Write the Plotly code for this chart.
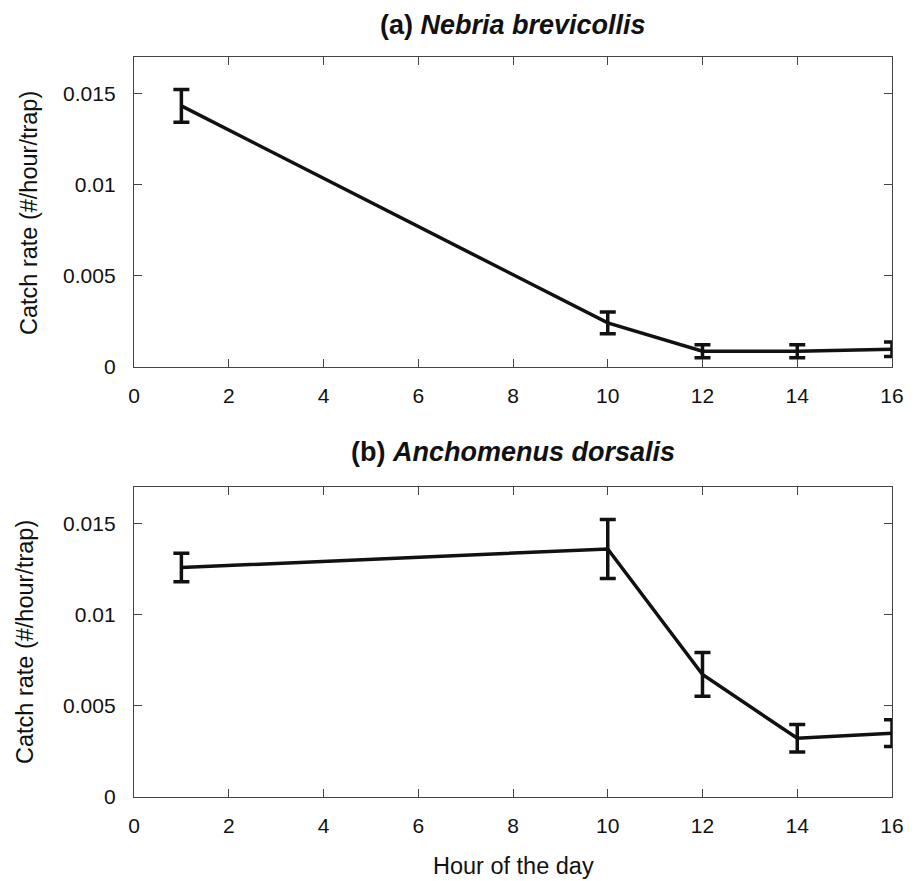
import plotly.graph_objects as go
from plotly.subplots import make_subplots

hours = [1, 10, 12, 14, 16]

nebria_mean = [0.01432, 0.00242, 0.00087, 0.00087, 0.00098]
nebria_err = [0.00090, 0.00060, 0.00036, 0.00036, 0.00040]

anchomenus_mean = [0.01258, 0.01360, 0.00672, 0.00322, 0.00350]
anchomenus_err = [0.00078, 0.00162, 0.00120, 0.00075, 0.00073]

x_ticks = [0, 2, 4, 6, 8, 10, 12, 14, 16]
y_tickvals = [0, 0.005, 0.01, 0.015]
y_ticktext = ["0", "0.005", "0.01", "0.015"]

titles = ["<b>(a) <i>Nebria brevicollis</i></b>", "<b>(b) <i>Anchomenus dorsalis</i></b>"]
y_title = "Catch rate (#/hour/trap)"
x_title = "Hour of the day"

FONT = "Liberation Sans, Arial, Helvetica, sans-serif"

fig = make_subplots(rows=2, cols=1, vertical_spacing=0.162)

for i, (m, e) in enumerate([(nebria_mean, nebria_err), (anchomenus_mean, anchomenus_err)]):
    fig.add_trace(go.Scatter(
        x=hours, y=m, mode="lines",
        line=dict(color="#111111", width=3.5),
        error_y=dict(type="data", array=e, visible=True, color="#111111",
                     thickness=3.5, width=8),
        cliponaxis=False,
        showlegend=False,
    ), row=i + 1, col=1)

axis_common = dict(
    showline=True, linecolor="#444444", linewidth=1.3, mirror="ticks",
    ticks="inside", ticklen=8, tickwidth=1.3, tickcolor="#444444",
    showgrid=False, zeroline=False,
    tickfont=dict(family=FONT, size=21, color="#111111"),
)

for r in (1, 2):
    fig.update_xaxes(range=[0, 16], tickvals=x_ticks, ticklabelstandoff=10,
                     row=r, col=1, **axis_common)
    fig.update_yaxes(range=[0, 0.017], tickvals=y_tickvals, ticktext=y_ticktext,
                     ticklabelstandoff=13, row=r, col=1, **axis_common)

fig.update_layout(
    width=915, height=881,
    margin=dict(l=134, r=23, t=57, b=84),
    paper_bgcolor="white", plot_bgcolor="white",
    font=dict(family=FONT, color="#111111"),
)

annotations = [
    dict(text=titles[0], x=0.5, y=(797 - 25) / 740, xref="paper", yref="paper",
         xanchor="center", yanchor="middle", showarrow=False,
         font=dict(family=FONT, size=27, color="#111111")),
    dict(text=titles[1], x=0.5, y=(797 - 452) / 740, xref="paper", yref="paper",
         xanchor="center", yanchor="middle", showarrow=False,
         font=dict(family=FONT, size=27, color="#111111")),
    dict(text=y_title, x=(29 - 134) / 758, y=(797 - 213) / 740, xref="paper", yref="paper",
         xanchor="center", yanchor="middle", textangle=-90, showarrow=False,
         font=dict(family=FONT, size=23.5, color="#111111")),
    dict(text=y_title, x=(25 - 134) / 758, y=(797 - 642) / 740, xref="paper", yref="paper",
         xanchor="center", yanchor="middle", textangle=-90, showarrow=False,
         font=dict(family=FONT, size=23.5, color="#111111")),
    dict(text=x_title, x=0.5, y=(797 - 866) / 740, xref="paper", yref="paper",
         xanchor="center", yanchor="middle", showarrow=False,
         font=dict(family=FONT, size=23.5, color="#111111")),
]
fig.update_layout(annotations=annotations)

# remove the default page margin so the figure sits at the window's top-left corner
fig.write_html("out.html", config={"displayModeBar": False},
               post_script="document.body.style.margin='0';")
